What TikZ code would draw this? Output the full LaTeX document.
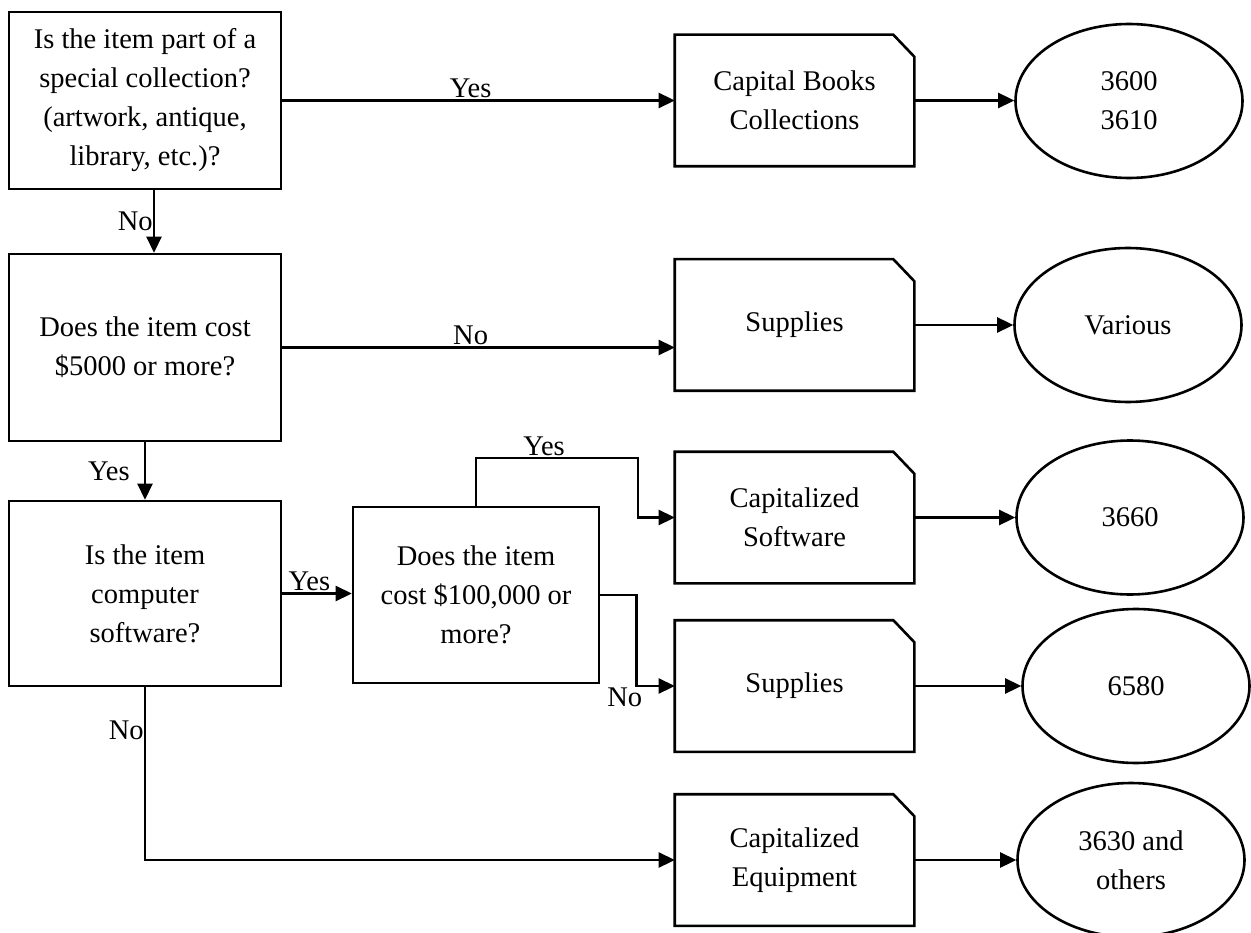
\documentclass[tikz,border=0pt]{standalone}
\usepackage{fontspec}
\setmainfont{Liberation Serif}
\usetikzlibrary{shapes.geometric,arrows.meta,positioning}

\begin{document}
\begin{tikzpicture}[x=1pt,y=-1pt,line width=2.6pt,
  every node/.style={font=\fontsize{28.5}{39}\selectfont,align=center,inner sep=0pt},
  question/.style={draw,minimum width=272pt},
  docbox/.style={minimum width=237pt,minimum height=129pt},
  code/.style={draw,ellipse,minimum width=227pt,minimum height=154pt},
  arr/.style={-{Triangle[length=16pt,width=15pt]}},
  lbl/.style={inner sep=1pt}]
\useasboundingbox (0,0) rectangle (1251,933);
\node[question,minimum height=177pt] (q1) at (145,100.5) {Is the item part of a\\special collection?\\(artwork, antique,\\library, etc.)?};
\node[question,minimum height=187pt] (q2) at (145,347.5) {Does the item cost\\\$5000 or more?};
\node[question,minimum height=185pt] (q3) at (145,593.5) {Is the item\\computer\\software?};
\node[question,minimum width=246pt,minimum height=176pt] (q4) at (476,595) {Does the item\\cost \$100,000 or\\more?};
\node[docbox] (b1) at (794.5,100.5) {Capital Books\\Collections};
\node[docbox] (b2) at (794.5,325) {Supplies};
\node[docbox] (b3) at (794.5,517.5) {Capitalized\\Software};
\node[docbox] (b4) at (794.5,686) {Supplies};
\node[docbox] (b5) at (794.5,860) {Capitalized\\Equipment};
\node[code] (e1) at (1129,101) {3600\\3610};
\node[code] (e2) at (1128,325) {Various};
\node[code] (e3) at (1130,517.5) {3660};
\node[code] (e4) at (1136,686) {6580};
\node[code] (e5) at (1131,860) {3630 and\\others};
\coordinate (up) at (638,458);
\foreach \b in {b1,b2,b3,b4,b5}
  \draw (\b.south west) |- ([xshift=-21pt]\b.north east) -- ([yshift=-22pt]\b.north east) -- (\b.south east) -- cycle;
\foreach \i in {1,...,5}
  \draw[arr] (b\i.east) -- (b\i.east -| e\i.west);
\draw[arr] (q1.east) -- node[lbl,above,pos=.48] (yes1) {Yes} (q1.east -| b1.west);
\draw[arr] ([xshift=9pt]q1.south) -- node[left] (no1) {No} ([xshift=9pt]q2.north);
\draw[arr] (q2.east) -- node[lbl,above,pos=.48] (no2) {No} (q2.east -| b2.west);
\draw[arr] (q2.south) -- node[left,xshift=-14pt] (yes2) {Yes} (q3.north);
\draw[arr] (q3.east) -- node[lbl,above,pos=.39] (yes3) {Yes} (q3.east -| q4.west);
\draw[arr] (q4.north) |- node[lbl,above,pos=.71] (yes4) {Yes} (up) |- (b3.west);
\draw[arr] (q4.east) -| ([xshift=-38pt]b4.west) node[lbl,below,xshift=-12pt] (no4) {No} -- (b4.west);
\draw[arr] (q3.south) |- node[left,pos=.124] (no3) {No} (b5.west);
\end{tikzpicture}
\end{document}
